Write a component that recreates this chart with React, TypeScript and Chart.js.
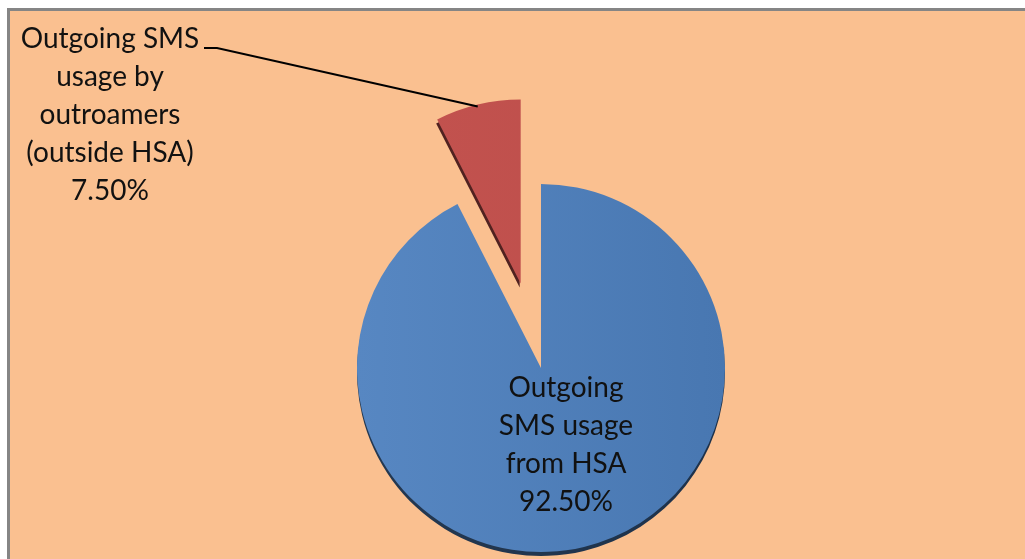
import React, { useEffect, useRef } from "react";
import { Chart, registerables } from "chart.js";

Chart.register(...registerables);

// ---- data ----
const categories = [
  "Outgoing SMS usage from HSA",
  "Outgoing SMS usage by outroamers (outside HSA)",
];
const shares = [92.5, 7.5];
const labelLines = [
  ["Outgoing", "SMS usage", "from HSA"],
  ["Outgoing SMS", "usage by", "outroamers", "(outside HSA)"],
];

// ---- styles ----
const COLORS_LIGHT = ["#5787C2", "#C4534F"];
const COLORS_DARK = ["#4877B1", "#BC4E4B"];
const EXPLODE = [0, 87];
const SHADOW_DX = [0, -1];
const SHADOW_DY = [4, 4];
const RADIUS = 184;
const FONT = "28px Lato";
const LINE_H = 38;
const LABEL_POS = [
  { x: 566, y: 397 },
  { x: 110, y: 48 },
];

const explodePlugin = {
  id: "explode3d",
  beforeDatasetDraw(chart: any, args: any) {
    const ctx = chart.ctx as CanvasRenderingContext2D;
    const els = args.meta.data;
    const shift = (el: any, i: number) => {
      const mid = (el.startAngle + el.endAngle) / 2;
      return [Math.cos(mid) * EXPLODE[i], Math.sin(mid) * EXPLODE[i]];
    };
    els.forEach((el: any, i: number) => {
      const [dx, dy] = shift(el, i);
      ctx.save();
      ctx.translate(dx + SHADOW_DX[i], dy + SHADOW_DY[i]);
      (ctx as any).filter = "brightness(0.42)";
      el.draw(ctx);
      ctx.restore();
    });
    els.forEach((el: any, i: number) => {
      const [dx, dy] = shift(el, i);
      ctx.save();
      ctx.translate(dx, dy);
      el.draw(ctx);
      ctx.restore();
    });
    return false;
  },
};

const labelPlugin = {
  id: "pieLabels",
  afterDatasetsDraw(chart: any) {
    const ctx = chart.ctx as CanvasRenderingContext2D;
    const els = chart.getDatasetMeta(0).data;
    ctx.save();
    ctx.font = FONT;
    ctx.fillStyle = "#111111";
    ctx.textAlign = "center";
    ctx.textBaseline = "alphabetic";
    labelLines.forEach((lines, i) => {
      const all = [...lines, shares[i].toFixed(2) + "%"];
      all.forEach((t, k) => {
        ctx.fillText(t, LABEL_POS[i].x, LABEL_POS[i].y + k * LINE_H);
      });
    });
    // leader line for the exploded slice
    const el = els[1];
    const mid = (el.startAngle + el.endAngle) / 2;
    const r = el.outerRadius + EXPLODE[1];
    const ex = el.x + Math.cos(mid) * r;
    const ey = el.y + Math.sin(mid) * r + 2;
    ctx.strokeStyle = "#000";
    ctx.lineWidth = 2;
    ctx.beginPath();
    ctx.moveTo(204, 48);
    ctx.lineTo(217, 48);
    ctx.lineTo(ex, ey);
    ctx.stroke();
    ctx.restore();
  },
};

export default function App() {
  const ref = useRef<HTMLCanvasElement | null>(null);
  useEffect(() => {
    if (!ref.current) return;
    const chart = new Chart(ref.current, {
      type: "pie",
      data: {
        labels: categories,
        datasets: [
          {
            data: shares,
            borderWidth: 0,
            backgroundColor: (c: any) => {
              const ch = c.chart;
              const a = ch.chartArea;
              if (!a) return COLORS_DARK[c.dataIndex];
              const cx = (a.left + a.right) / 2;
              const g = ch.ctx.createLinearGradient(cx - RADIUS, 0, cx + RADIUS, 0);
              g.addColorStop(0, COLORS_LIGHT[c.dataIndex]);
              g.addColorStop(1, COLORS_DARK[c.dataIndex]);
              return g;
            },
          },
        ],
      },
      options: {
        responsive: false,
        devicePixelRatio: 1,
        animation: false,
        events: [],
        radius: RADIUS,
        layout: { padding: { left: 57, top: 177, right: 0, bottom: 0 } },
        plugins: { legend: { display: false }, tooltip: { enabled: false } },
      } as any,
      plugins: [explodePlugin, labelPlugin],
    });
    return () => chart.destroy();
  }, []);

  return (
    <>
      <div
        style={{
          position: "fixed",
          left: 7,
          top: 8,
          width: 1018,
          height: 551,
          background: "#FAC090",
          borderLeft: "3px solid #858585",
          borderTop: "3px solid #858585",
          boxSizing: "border-box",
        }}
      />
      <canvas
        ref={ref}
        width={1025}
        height={559}
        style={{ position: "fixed", left: 0, top: 0, width: 1025, height: 559 }}
      />
    </>
  );
}
